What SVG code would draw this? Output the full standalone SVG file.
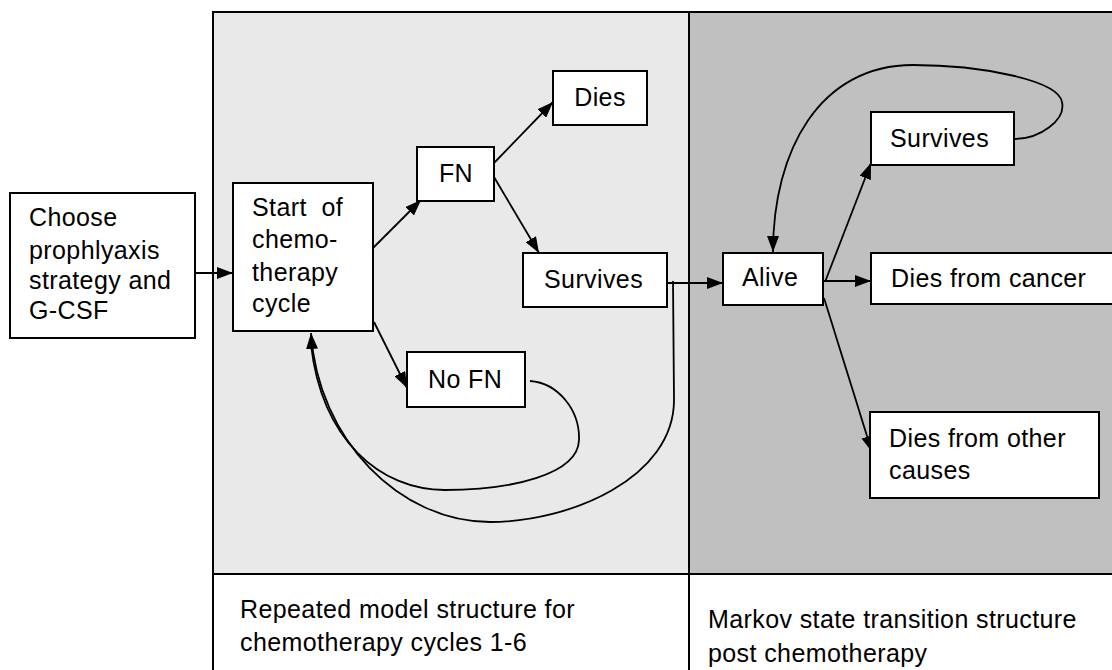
<svg xmlns="http://www.w3.org/2000/svg" width="1112" height="670" viewBox="0 0 1112 670">
<style>
text{font-family:"Liberation Sans",Arial,sans-serif;font-size:25px;fill:#000;letter-spacing:0.4px}
.box{fill:#fff;stroke:#000;stroke-width:2}
.c{fill:none;stroke:#000;stroke-width:1.8}
</style>
<defs>
<marker id="ah" viewBox="0 0 16 12" refX="16" refY="6" markerWidth="16" markerHeight="12" orient="auto" markerUnits="userSpaceOnUse"><path d="M0,0 L16,6 L0,12 z" fill="#000"/></marker>
</defs>
<rect width="1112" height="670" fill="#fff"/>
<g id="panels">
<rect x="213" y="12" width="476" height="562" fill="#e9e9e9"/>
<rect x="689" y="12" width="431" height="562" fill="#c0c0c0"/>
<rect x="213" y="12" width="907" height="668" fill="none" stroke="#000" stroke-width="2"/>
<line x1="689" y1="12" x2="689" y2="680" stroke="#000" stroke-width="2"/>
<line x1="213" y1="574" x2="1120" y2="574" stroke="#000" stroke-width="2"/>
<text x="240" y="618">Repeated model structure for</text>
<text x="240" y="651">chemotherapy cycles 1-6</text>
<text x="708" y="628">Markov state transition structure</text>
<text x="708" y="662">post chemotherapy</text>
</g>
<g id="connectors">
<line class="c" x1="195" y1="273" x2="233" y2="273" marker-end="url(#ah)"/>
<line class="c" x1="373" y1="248" x2="421" y2="200" marker-end="url(#ah)"/>
<line class="c" x1="494" y1="163" x2="553" y2="102" marker-end="url(#ah)"/>
<line class="c" x1="494" y1="177" x2="539" y2="253" marker-end="url(#ah)"/>
<line class="c" x1="374" y1="322" x2="407" y2="388" marker-end="url(#ah)"/>
<line class="c" x1="667" y1="283" x2="723" y2="283" marker-end="url(#ah)"/>
<path class="c" d="M673,281 L674,400 C674,478 570,522 490,522 C400,522 318,440 311,333" marker-end="url(#ah)"/>
<path class="c" d="M530,381 C558,383 580,410 579,440 C578,475 510,490 445,490 C380,490 322,440 311,345"/>
<line class="c" x1="825" y1="282" x2="871" y2="163" marker-end="url(#ah)"/>
<line class="c" x1="823" y1="281" x2="871" y2="281" marker-end="url(#ah)"/>
<line class="c" x1="824" y1="298" x2="872" y2="452" marker-end="url(#ah)"/>
<path class="c" d="M1014,139 C1040,139 1066,120 1062,102 C1058,80 980,65 913,65 C820,65 773,150 773,252" marker-end="url(#ah)"/>
</g>
<g id="choose"><rect class="box" x="10" y="193" width="185" height="145"/>
<text x="29" y="226">Choose</text><text x="29" y="259">prophlyaxis</text><text x="29" y="289">strategy and</text><text x="29" y="319">G-CSF</text></g>
<g id="start"><rect class="box" x="233" y="183" width="140" height="148"/>
<text x="252" y="216" xml:space="preserve">Start  of</text><text x="252" y="248">chemo-</text><text x="252" y="281">therapy</text><text x="252" y="312">cycle</text></g>
<g id="fn"><rect class="box" x="417" y="147" width="77" height="54"/><text x="456" y="182" text-anchor="middle">FN</text></g>
<g id="dies"><rect class="box" x="553" y="71" width="94" height="54"/><text x="600" y="106" text-anchor="middle">Dies</text></g>
<g id="survives"><rect class="box" x="523" y="253" width="144" height="54"/><text x="544" y="288">Survives</text></g>
<g id="nofn"><rect class="box" x="407" y="352" width="118" height="55"/><text x="428" y="388">No FN</text></g>
<g id="alive"><rect class="box" x="723" y="253" width="100" height="52"/><text x="742" y="286">Alive</text></g>
<g id="survives2"><rect class="box" x="871" y="112" width="143" height="53"/><text x="890" y="147">Survives</text></g>
<g id="diescancer"><rect class="box" x="871" y="253" width="250" height="51"/><text x="891" y="287">Dies from cancer</text></g>
<g id="diesother"><rect class="box" x="870" y="412" width="229" height="86"/><text x="889" y="447">Dies from other</text><text x="889" y="479">causes</text></g>
</svg>
